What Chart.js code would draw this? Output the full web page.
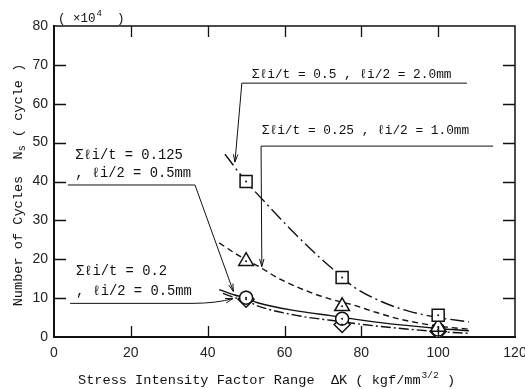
<!DOCTYPE html>
<html>
<head>
<meta charset="utf-8">
<script src="https://cdn.jsdelivr.net/npm/chart.js@4.4.0/dist/chart.umd.min.js"></script>
<style>
  html, body { margin: 0; padding: 0; background: #fff; }
  #wrap { width: 525px; height: 389px; }
</style>
</head>
<body>
<div id="wrap"><canvas id="cycleChart" width="525" height="389"></canvas></div>
<script>
// stress intensity factor range (kgf/mm^3/2) where specimens were tested
const deltaK = [50, 75, 100];

// number of cycles Ns (x10^4) for each crack arrangement
const cyclesSquare = [40, 15.3, 5.6];     // sum li/t = 0.5,   li/2 = 2.0mm
const cyclesTriangle = [19.5, 7.9, 2.6];  // sum li/t = 0.25,  li/2 = 1.0mm
const cyclesCircle = [10.1, 4.7, 1.9];    // sum li/t = 0.125, li/2 = 0.5mm
const cyclesDiamond = [9.7, 3.2, 1.4];    // sum li/t = 0.2,   li/2 = 0.5mm

// fitted curves
const fitSquareK = [44.5, 50, 55, 61.5, 69, 75, 78, 85.5, 92.5, 100, 108];
const fitSquareN = [47, 40, 34.6, 27.8, 20.6, 15.4, 12.9, 9.0, 6.6, 5.0, 3.9];
const fitTriangleK = [43, 48, 53, 59, 67.5, 72.5, 78, 83, 90, 100, 108];
const fitTriangleN = [24.2, 21, 18.3, 14.8, 11.2, 9.6, 8.2, 6.6, 4.6, 2.8, 2.0];
const fitCircleK = [43, 47, 50, 53, 64, 72, 85, 100, 108];
const fitCircleN = [12.2, 10.8, 10, 8.8, 6.6, 5.5, 3.7, 2.2, 1.6];
const fitDiamondK = [44, 47.5, 50, 53, 64, 72, 85, 100, 108];
const fitDiamondN = [11.2, 10, 9.4, 8.0, 5.4, 4.3, 2.7, 1.4, 0.95];

const xTicks = [0, 20, 40, 60, 80, 100, 120];
const yTicks = [0, 10, 20, 30, 40, 50, 60, 70, 80];

const INK = '#111';
const MONO = "'Liberation Mono', 'DejaVu Sans Mono', monospace";

// labels with leader lines, placed in data units
const notes = [
    { lines: ['Σℓi/t = 0.5 , ℓi/2 = 2.0mm'], x: 51.5, y: [66.6], size: 12.8,
      leader: [[107.5, 65.3], [48.9, 65.3], [47.1, 45]] },
    { lines: ['Σℓi/t = 0.25 , ℓi/2 = 1.0mm'], x: 54.1, y: [52.1], size: 12.8,
      leader: [[114.3, 49.1], [53.9, 49.1], [54.1, 18.1]] },
    { lines: ['Σℓi/t = 0.125', ', ℓi/2 = 0.5mm'], x: 5.5, y: [45.7, 41.2], size: 13.8,
      leader: [[3.6, 39.1], [36.7, 39.1], [46.7, 11.7]] },
    { lines: ['Σℓi/t = 0.2', ', ℓi/2 = 0.5mm'], x: 5.7, y: [15.9, 10.8], size: 13.8,
      leader: [[4.2, 8.65], [36.2, 8.65], [46.6, 9.9]], bend: [42.5, 8.7] }
];

function pts(xs, ys) {
    return xs.map((k, i) => ({ x: k, y: ys[i] }));
}

function markers(values, style, radius, order) {
    return {
        data: pts(deltaK, values),
        showLine: false,
        pointStyle: style,
        pointRadius: radius,
        pointHoverRadius: radius,
        pointBorderColor: INK,
        pointBackgroundColor: '#fff',
        pointBorderWidth: 1.5,
        order: order
    };
}

function curve(xs, ys, dash) {
    return {
        data: pts(xs, ys),
        showLine: true,
        borderColor: INK,
        borderWidth: 1.4,
        borderDash: dash,
        pointRadius: 0,
        pointHoverRadius: 0,
        cubicInterpolationMode: 'monotone',
        fill: false,
        order: 10
    };
}

function arrowHead(ctx, from, to) {
    const ang = Math.atan2(to[1] - from[1], to[0] - from[0]);
    const len = 8, spread = 0.28;
    ctx.beginPath();
    ctx.moveTo(to[0] - len * Math.cos(ang - spread), to[1] - len * Math.sin(ang - spread));
    ctx.lineTo(to[0], to[1]);
    ctx.lineTo(to[0] - len * Math.cos(ang + spread), to[1] - len * Math.sin(ang + spread));
    ctx.stroke();
}

const framePlugin = {
    id: 'frame',
    afterDatasetsDraw(chart) {
        const { ctx, chartArea: a, scales: { x, y } } = chart;
        ctx.save();
        ctx.strokeStyle = INK;
        ctx.fillStyle = INK;

        // top and right border
        ctx.lineWidth = 1.5;
        ctx.beginPath();
        ctx.moveTo(a.left, a.top);
        ctx.lineTo(a.right, a.top);
        ctx.lineTo(a.right, a.bottom);
        ctx.stroke();

        // inward tick marks on all four sides
        ctx.lineWidth = 1.3;
        xTicks.slice(1, -1).forEach(v => {
            const px = Math.round(x.getPixelForValue(v)) + 0.5;
            ctx.beginPath();
            ctx.moveTo(px, a.bottom); ctx.lineTo(px, a.bottom - 11);
            ctx.moveTo(px, a.top); ctx.lineTo(px, a.top + 11);
            ctx.stroke();
        });
        yTicks.slice(1, -1).forEach(v => {
            const py = Math.round(y.getPixelForValue(v)) + 0.5;
            ctx.beginPath();
            ctx.moveTo(a.left, py); ctx.lineTo(a.left + 12, py);
            ctx.moveTo(a.right, py); ctx.lineTo(a.right - 12, py);
            ctx.stroke();
        });

        // annotations
        ctx.lineWidth = 1;
        ctx.textAlign = 'left';
        ctx.textBaseline = 'alphabetic';
        notes.forEach(n => {
            ctx.font = n.size + 'px ' + MONO;
            n.lines.forEach((t, i) => {
                ctx.fillText(t, x.getPixelForValue(n.x), y.getPixelForValue(n.y[i]));
            });
            const p = n.leader.map(q => [x.getPixelForValue(q[0]), y.getPixelForValue(q[1])]);
            ctx.beginPath();
            ctx.moveTo(p[0][0], p[0][1]);
            ctx.lineTo(p[1][0], p[1][1]);
            let from = p[1];
            if (n.bend) {
                const c = [x.getPixelForValue(n.bend[0]), y.getPixelForValue(n.bend[1])];
                ctx.quadraticCurveTo(c[0], c[1], p[2][0], p[2][1]);
                from = c;
            } else {
                ctx.lineTo(p[2][0], p[2][1]);
            }
            ctx.stroke();
            arrowHead(ctx, from, p[2]);
        });
        ctx.restore();
    },
    afterDraw(chart) {
        const ctx = chart.ctx;
        ctx.save();
        ctx.fillStyle = INK;
        ctx.textBaseline = 'alphabetic';
        ctx.textAlign = 'left';

        // unit multiplier above the y axis
        ctx.font = '12.5px ' + MONO;
        let cx = 58;
        ctx.fillText('( ×10', cx, 22);
        cx += ctx.measureText('( ×10').width;
        ctx.font = '9px ' + MONO;
        ctx.fillText('4', cx + 1, 16);
        cx += ctx.measureText('4').width + 1;
        ctx.font = '12.5px ' + MONO;
        ctx.fillText('  )', cx, 22);

        // x axis title
        ctx.font = '13.6px ' + MONO;
        const xa = 'Stress Intensity Factor Range  ΔK ( kgf/mm';
        let tx = 78;
        ctx.fillText(xa, tx, 384);
        tx += ctx.measureText(xa).width + 1;
        ctx.font = '9.5px ' + MONO;
        ctx.fillText('3/2', tx, 378);
        tx += ctx.measureText('3/2').width;
        ctx.font = '13.6px ' + MONO;
        ctx.fillText(' )', tx, 384);

        // y axis title, rotated
        ctx.translate(22, 185);
        ctx.rotate(-Math.PI / 2);
        const ya = 'Number of Cycles  N', yb = ' ( cycle )';
        ctx.font = '13.6px ' + MONO;
        const wa = ctx.measureText(ya).width, wb = ctx.measureText(yb).width;
        ctx.font = '10px ' + MONO;
        const ws = ctx.measureText('s').width;
        let ty = -(wa + ws + wb) / 2;
        ctx.font = '13.6px ' + MONO;
        ctx.fillText(ya, ty, 0);
        ctx.font = '10px ' + MONO;
        ctx.fillText('s', ty + wa, 3);
        ctx.font = '13.6px ' + MONO;
        ctx.fillText(yb, ty + wa + ws, 0);
        ctx.restore();
    }
};

const tickFont = { family: "'Liberation Sans', Arial, sans-serif", size: 14 };

new Chart(document.getElementById('cycleChart'), {
    type: 'scatter',
    data: {
        datasets: [
            curve(fitSquareK, fitSquareN, [14, 4, 2, 4]),
            curve(fitTriangleK, fitTriangleN, [6, 4]),
            curve(fitCircleK, fitCircleN, []),
            curve(fitDiamondK, fitDiamondN, [10, 3, 2, 3]),
            markers(cyclesDiamond, 'rectRot', 8, 5),
            markers(cyclesCircle, 'circle', 6.5, 4),
            markers(cyclesTriangle, 'triangle', 8.5, 3),
            markers(cyclesSquare, 'rect', 8.5, 2),
            {
                // small dot in the middle of every marker
                data: [cyclesSquare, cyclesTriangle, cyclesCircle, cyclesDiamond]
                    .flatMap(s => pts(deltaK, s)),
                showLine: false,
                pointRadius: 1,
                pointHoverRadius: 1,
                pointBackgroundColor: INK,
                pointBorderWidth: 0,
                order: 0
            }
        ]
    },
    options: {
        responsive: false,
        animation: false,
        devicePixelRatio: 1,
        layout: { padding: { top: 26, right: 10, left: 0, bottom: 0 } },
        plugins: {
            legend: { display: false },
            tooltip: { enabled: false }
        },
        scales: {
            x: {
                type: 'linear',
                min: 0,
                max: 120,
                grid: { display: false, drawTicks: false },
                border: { display: true, color: INK, width: 2 },
                ticks: { font: tickFont, color: '#222', padding: 8, maxRotation: 0, autoSkip: false },
                afterBuildTicks: s => { s.ticks = xTicks.map(v => ({ value: v })); },
                afterFit: s => { s.height = 52; s.paddingLeft = 0; s.paddingRight = 0; }
            },
            y: {
                type: 'linear',
                min: 0,
                max: 80,
                grid: { display: false, drawTicks: false },
                border: { display: true, color: INK, width: 2 },
                ticks: { font: tickFont, color: '#222', padding: 6, autoSkip: false },
                afterBuildTicks: s => { s.ticks = yTicks.map(v => ({ value: v })); },
                afterFit: s => { s.width = 54; s.paddingTop = 0; s.paddingBottom = 0; }
            }
        }
    },
    plugins: [framePlugin]
});
</script>
</body>
</html>
